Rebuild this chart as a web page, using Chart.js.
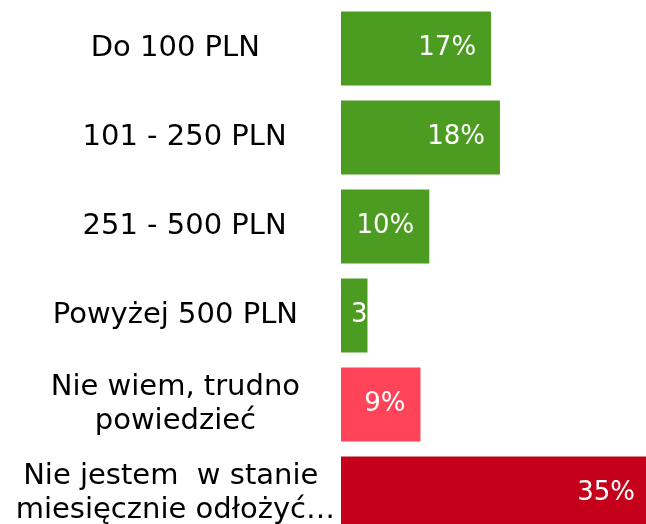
<!DOCTYPE html>
<html>
<head>
<meta charset="utf-8">
<script src="https://cdn.jsdelivr.net/npm/chart.js@4"></script>
<style>
  html, body { margin: 0; padding: 0; background: #fff; overflow: hidden; }
  #wrap { position: relative; width: 650px; height: 540px; }
</style>
</head>
<body>
<div id="wrap"><canvas id="chart"></canvas></div>
<script>
// Categories (multi-line labels as arrays)
const categories = [
    'Do 100 PLN',
    '  101 - 250 PLN',
    '  251 - 500 PLN',
    'Powyżej 500 PLN',
    ['Nie wiem, trudno', 'powiedzieć'],
    ['Nie jestem  w stanie ', 'miesięcznie odłożyć…']
];

// Share of answers, percent
const shares = [17, 18, 10, 3, 9, 35];

const GREEN = '#4b9c21';
const PINK = '#ff445a';
const RED = '#c5001a';
const barColors = [GREEN, GREEN, GREEN, GREEN, PINK, RED];

// Draw the percent label inside each bar, clipped to the bar
const barLabels = {
    id: 'barLabels',
    afterDatasetsDraw(chart) {
        const ctx = chart.ctx;
        const meta = chart.getDatasetMeta(0);
        ctx.save();
        ctx.font = '26px "DejaVu Sans"';
        ctx.fillStyle = '#ffffff';
        ctx.textBaseline = 'middle';
        meta.data.forEach((bar, i) => {
            const text = shares[i] + '%';
            const w = ctx.measureText(text).width;
            const left = Math.min(bar.base, bar.x);
            const right = Math.max(bar.base, bar.x);
            let tx = right - 15 - w;
            if (tx < left + 10) tx = left + 10;
            ctx.save();
            ctx.beginPath();
            ctx.rect(left, bar.y - bar.height / 2, right - left, bar.height);
            ctx.clip();
            ctx.textAlign = 'left';
            ctx.fillText(text, tx, bar.y);
            ctx.restore();
        });
        ctx.restore();
    }
};

const ctx = document.getElementById('chart').getContext('2d');
new Chart(ctx, {
    type: 'bar',
    data: {
        labels: categories,
        datasets: [{
            data: shares,
            backgroundColor: barColors,
            borderWidth: 0,
            categoryPercentage: 1,
            barPercentage: 0.83
        }]
    },
    options: {
        indexAxis: 'y',
        responsive: true,
        maintainAspectRatio: false,
        animation: false,
        layout: { padding: { top: 4, bottom: 2, left: 0, right: 0 } },
        plugins: {
            legend: { display: false },
            tooltip: { enabled: false }
        },
        scales: {
            x: {
                display: false,
                min: 0,
                max: 35
            },
            y: {
                grid: { display: false, drawTicks: false },
                border: { display: false },
                afterFit: (scale) => {
                    scale.width = 341;
                    scale.paddingTop = 0;
                    scale.paddingBottom = 0;
                },
                ticks: {
                    crossAlign: 'center',
                    padding: 6,
                    color: '#000000',
                    font: { family: '"DejaVu Sans"', size: 29, lineHeight: 1.17 }
                }
            }
        }
    },
    plugins: [barLabels]
});
</script>
</body>
</html>
